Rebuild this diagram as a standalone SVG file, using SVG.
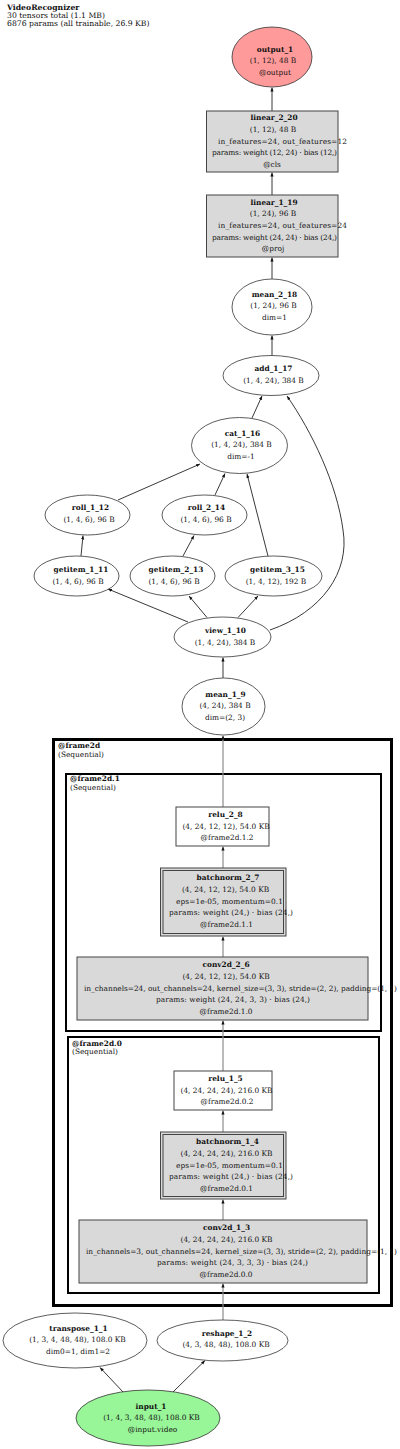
<svg xmlns="http://www.w3.org/2000/svg" width="400" height="1449" viewBox="0 0 400 1449">
<defs>
<style>
text{font-family:"DejaVu Serif","Liberation Serif",serif;font-size:7.4px;fill:#111}
.b{font-weight:bold}
.m{text-anchor:middle}
.hd{font-size:7.7px}
.op{fill:#ffffff;stroke:#333;stroke-width:0.8}
.box{fill:#d9d9d9;stroke:#444;stroke-width:1}
.wbox{fill:#ffffff;stroke:#444;stroke-width:1}
.cl3{fill:none;stroke:#000;stroke-width:3}
.cl2{fill:none;stroke:#000;stroke-width:2}
.e{fill:none;stroke:#222;stroke-width:0.9;marker-end:url(#ah)}
.eg{fill:none;stroke:#8c8c8c;stroke-width:1.2;marker-end:url(#ah)}
</style>
<marker id="ah" viewBox="0 0 10 10" refX="10" refY="5" markerWidth="4" markerHeight="4" orient="auto" markerUnits="userSpaceOnUse"><path d="M0,1 L10,5 L0,9 z" fill="#111"/></marker>
</defs>
<rect width="400" height="1449" fill="#ffffff"/>
<g id="header">
<text class="hd b" x="7" y="9.5">VideoRecognizer</text>
<text class="hd" x="7" y="17.8">30 tensors total (1.1 MB)</text>
<text class="hd" x="7" y="26">6876 params (all trainable, 26.9 KB)</text>
</g>
<g id="clusters">
<rect class="cl3" x="53.5" y="739.5" width="338" height="566"/>
<text class="b" x="58" y="748">@frame2d</text>
<text x="58" y="756.5">(Sequential)</text>
<rect class="cl2" x="66" y="774" width="315" height="257"/>
<text class="b" x="70" y="781">@frame2d.1</text>
<text x="70" y="789.5">(Sequential)</text>
<rect class="cl2" x="68" y="1037" width="311" height="256"/>
<text class="b" x="72" y="1046">@frame2d.0</text>
<text x="72" y="1054">(Sequential)</text>
</g>
<g id="connectors">
<path class="e" d="M272,111 L272,87.5"/>
<path class="e" d="M272,195 L272,172.5"/>
<path class="e" d="M272,279 L272,257.5"/>
<path class="e" d="M272,355.5 L272,335.5"/>
<path class="e" d="M252,418 L262,396"/>
<path class="e" d="M270,630 C322,612 350,572 343,530 C337,484 312,432 287,396"/>
<path class="e" d="M118,500 L200,464"/>
<path class="e" d="M215,495 L225,473.5"/>
<path class="e" d="M268,556 L247,474"/>
<path class="e" d="M81,556 L83,535.5"/>
<path class="e" d="M183,556 L194,535.5"/>
<path class="e" d="M188,622 L108,589"/>
<path class="e" d="M207,617.5 L189,596"/>
<path class="e" d="M238,617.5 L258,596"/>
<path class="e" d="M223,678.5 L223,657.5"/>
<path class="eg" d="M223,807 L223,735.5"/>
<path class="eg" d="M223,868 L223,846.5"/>
<path class="eg" d="M223,957 L223,936.5"/>
<path class="eg" d="M223,1071 L223,1020.5"/>
<path class="eg" d="M223,1132 L223,1110.5"/>
<path class="eg" d="M223,1220 L223,1199.5"/>
<path class="eg" d="M223,1320.5 L223,1283.5"/>
<path class="e" d="M123,1392 L100,1367.5"/>
<path class="e" d="M173,1392 L205,1360.5"/>
</g>
<g id="output_1">
<ellipse cx="272" cy="57" rx="40" ry="30" fill="#ff9a9a" stroke="#333" stroke-width="0.8"/>
<text class="b m" x="275" y="51.5">output_1</text>
<text class="m" x="273" y="63.2">(1, 12), 48 B</text>
<text class="m" x="275" y="74.9">@output</text>
</g>
<g id="linear_2_20">
<rect class="box" x="206.5" y="111" width="131.5" height="61"/>
<text class="b m" x="274" y="120.1">linear_2_20</text>
<text class="m" x="273" y="131.8">(1, 12), 48 B</text>
<text x="218" y="143.5" textLength="129">in_features=24, out_features=12</text>
<text x="212" y="155.2" textLength="125">params: weight (12, 24) · bias (12,)</text>
<text class="m" x="272" y="166.9">@cls</text>
</g>
<g id="linear_1_19">
<rect class="box" x="206.5" y="195" width="131.5" height="62"/>
<text class="b m" x="274" y="204.6">linear_1_19</text>
<text class="m" x="273" y="216.3">(1, 24), 96 B</text>
<text x="218" y="228" textLength="129">in_features=24, out_features=24</text>
<text x="212" y="239.7" textLength="125">params: weight (24, 24) · bias (24,)</text>
<text class="m" x="273" y="251.4">@proj</text>
</g>
<g id="mean_2_18">
<ellipse class="op" cx="272" cy="307" rx="40" ry="28"/>
<text class="b m" x="274.5" y="296.5">mean_2_18</text>
<text class="m" x="273.5" y="308.2">(1, 24), 96 B</text>
<text class="m" x="274.5" y="319.9">dim=1</text>
</g>
<g id="add_1_17">
<ellipse class="op" cx="271" cy="375.5" rx="48" ry="20"/>
<text class="b m" x="273.5" y="370.5">add_1_17</text>
<text class="m" x="273.5" y="382.5">(1, 4, 24), 384 B</text>
</g>
<g id="cat_1_16">
<ellipse class="op" cx="239.5" cy="445.5" rx="48" ry="28"/>
<text class="b m" x="242.5" y="435.5">cat_1_16</text>
<text class="m" x="241.5" y="447.2">(1, 4, 24), 384 B</text>
<text class="m" x="241" y="458.9">dim=-1</text>
</g>
<g id="roll_1_12">
<ellipse class="op" cx="87.5" cy="515" rx="42.5" ry="20"/>
<text class="b m" x="90.5" y="509.5">roll_1_12</text>
<text class="m" x="89" y="521.5">(1, 4, 6), 96 B</text>
</g>
<g id="roll_2_14">
<ellipse class="op" cx="204.5" cy="515" rx="42.5" ry="20"/>
<text class="b m" x="206.5" y="509.5">roll_2_14</text>
<text class="m" x="206" y="521.5">(1, 4, 6), 96 B</text>
</g>
<g id="getitem_1_11">
<ellipse class="op" cx="76.5" cy="576" rx="42.5" ry="20"/>
<text class="b m" x="81" y="571.5">getitem_1_11</text>
<text class="m" x="78" y="583.5">(1, 4, 6), 96 B</text>
</g>
<g id="getitem_2_13">
<ellipse class="op" cx="172.5" cy="576" rx="42.5" ry="20"/>
<text class="b m" x="176" y="571.5">getitem_2_13</text>
<text class="m" x="174" y="583.5">(1, 4, 6), 96 B</text>
</g>
<g id="getitem_3_15">
<ellipse class="op" cx="273.5" cy="576" rx="48.5" ry="20"/>
<text class="b m" x="277.5" y="571.5">getitem_3_15</text>
<text class="m" x="276" y="583.5">(1, 4, 12), 192 B</text>
</g>
<g id="view_1_10">
<ellipse class="op" cx="222.5" cy="637" rx="48.5" ry="20"/>
<text class="b m" x="225.5" y="632.5">view_1_10</text>
<text class="m" x="225" y="644.5">(1, 4, 24), 384 B</text>
</g>
<g id="mean_1_9">
<ellipse class="op" cx="223.5" cy="706.5" rx="41.5" ry="28.5"/>
<text class="b m" x="225.5" y="696.5">mean_1_9</text>
<text class="m" x="225" y="708.2">(4, 24), 384 B</text>
<text class="m" x="225" y="719.9">dim=(2, 3)</text>
</g>
<g id="relu_2_8">
<rect class="wbox" x="176" y="807" width="93" height="39"/>
<text class="b m" x="225.5" y="816.8">relu_2_8</text>
<text class="m" x="226" y="828.5">(4, 24, 12, 12), 54.0 KB</text>
<text class="m" x="227" y="840.2">@frame2d.1.2</text>
</g>
<g id="batchnorm_2_7">
<rect class="box" x="160.5" y="868" width="125.5" height="68"/>
<rect fill="none" stroke="#444" stroke-width="1" x="163" y="870.5" width="120.5" height="63"/>
<text class="b m" x="228" y="880.1">batchnorm_2_7</text>
<text class="m" x="225.5" y="891.8">(4, 24, 12, 12), 54.0 KB</text>
<text x="176" y="903.5" textLength="107">eps=1e-05, momentum=0.1</text>
<text x="169" y="915.2" textLength="124">params: weight (24,) · bias (24,)</text>
<text class="m" x="226.5" y="926.9">@frame2d.1.1</text>
</g>
<g id="conv2d_2_6">
<rect class="box" x="77" y="957" width="291" height="63"/>
<text class="b m" x="226" y="967.1">conv2d_2_6</text>
<text class="m" x="226" y="978.8">(4, 24, 12, 12), 54.0 KB</text>
<text x="84" y="990.5" textLength="313">in_channels=24, out_channels=24, kernel_size=(3, 3), stride=(2, 2), padding=(1, 1)</text>
<text x="156" y="1002.2" textLength="154">params: weight (24, 24, 3, 3) · bias (24,)</text>
<text class="m" x="226" y="1013.9">@frame2d.1.0</text>
</g>
<g id="relu_1_5">
<rect class="wbox" x="174" y="1071" width="98" height="39"/>
<text class="b m" x="225.5" y="1080.8">relu_1_5</text>
<text class="m" x="226.5" y="1092.5">(4, 24, 24, 24), 216.0 KB</text>
<text class="m" x="227" y="1104.2">@frame2d.0.2</text>
</g>
<g id="batchnorm_1_4">
<rect class="box" x="160.5" y="1132" width="125.5" height="67"/>
<rect fill="none" stroke="#444" stroke-width="1" x="163" y="1134.5" width="120.5" height="62"/>
<text class="b m" x="227.5" y="1144.1">batchnorm_1_4</text>
<text class="m" x="226.5" y="1155.8">(4, 24, 24, 24), 216.0 KB</text>
<text x="176" y="1167.5" textLength="107">eps=1e-05, momentum=0.1</text>
<text x="169" y="1179.2" textLength="124">params: weight (24,) · bias (24,)</text>
<text class="m" x="226.5" y="1190.9">@frame2d.0.1</text>
</g>
<g id="conv2d_1_3">
<rect class="box" x="79" y="1220" width="288" height="63"/>
<text class="b m" x="226.5" y="1230.1">conv2d_1_3</text>
<text class="m" x="226.5" y="1241.8">(4, 24, 24, 24), 216.0 KB</text>
<text x="86" y="1253.5" textLength="311">in_channels=3, out_channels=24, kernel_size=(3, 3), stride=(2, 2), padding=(1, 1)</text>
<text x="157" y="1265.2" textLength="151">params: weight (24, 3, 3, 3) · bias (24,)</text>
<text class="m" x="226" y="1276.9">@frame2d.0.0</text>
</g>
<g id="transpose_1_1">
<ellipse class="op" cx="75" cy="1340.5" rx="72" ry="27.5"/>
<text class="b m" x="78.5" y="1330.5">transpose_1_1</text>
<text class="m" x="77.5" y="1342.2">(1, 3, 4, 48, 48), 108.0 KB</text>
<text class="m" x="78" y="1353.9">dim0=1, dim1=2</text>
</g>
<g id="reshape_1_2">
<ellipse class="op" cx="222.5" cy="1340.5" rx="65.5" ry="20.5"/>
<text class="b m" x="227" y="1335.5">reshape_1_2</text>
<text class="m" x="226" y="1347">(4, 3, 48, 48), 108.0 KB</text>
</g>
<g id="input_1">
<ellipse cx="148" cy="1418" rx="72" ry="28" fill="#98f598" stroke="#333" stroke-width="0.8"/>
<text class="b m" x="151" y="1408.5">input_1</text>
<text class="m" x="151.5" y="1420.2">(1, 4, 3, 48, 48), 108.0 KB</text>
<text class="m" x="152.5" y="1431.9">@input.video</text>
</g>
</svg>
